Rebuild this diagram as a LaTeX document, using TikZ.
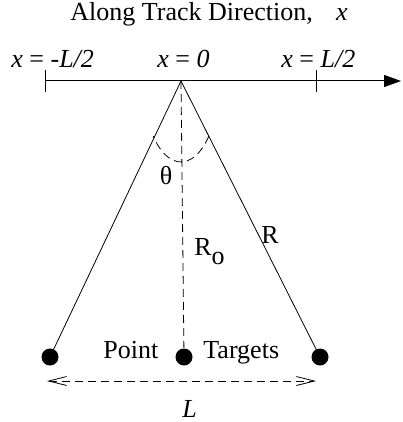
\documentclass[tikz,border=0pt]{standalone}
\usepackage{fontspec}
\setmainfont{Liberation Serif}
\usetikzlibrary{arrows.meta}
\begin{document}
\begin{tikzpicture}[x=1pt,y=-1pt,line width=0.8pt,
  every node/.style={font=\fontsize{26}{30}\selectfont,inner sep=0pt},
  target/.style={circle,fill,minimum size=17pt},
  guide/.style={dash pattern=on 8pt off 5pt}]
\useasboundingbox (0,0) rectangle (402,422);
\node[anchor=base west] (title) at (70,21) {Along Track Direction,\hspace{0.9em}\textit{x}};
\node[anchor=base west] (xl) at (11,68) {\textit{x} = \textit{-L/2}};
\node[anchor=base west] (xc) at (157,68) {\textit{x} = \textit{0}};
\node[anchor=base west] (xr) at (281,68) {\textit{x} = \textit{L/2}};
\coordinate (apex) at (181,81);
\coordinate (axstart) at (45,81);
\coordinate (axtip) at (401,81);
\node[target] (tl) at (50,357) {};
\node[target] (tc) at (184,357) {};
\node[target] (tr) at (320,357) {};
\coordinate (lleft) at (47,381);
\coordinate (lright) at (316,381);
% along track axis
\draw[line width=1pt,-{Triangle[length=17pt,width=12pt]}] (axstart) -- (axtip);
\foreach \t in {45,316} \draw (\t,70) -- (\t,92);
% slant ranges
\draw (apex) -- (tl.center);
\draw (apex) -- (tr.center);
\draw[guide] (apex) -- (tc);
\draw[guide] (apex) ++(43:38 and 81) arc[start angle=43,end angle=137,x radius=38,y radius=81];
\draw[guide,{Straight Barb[length=18pt,width=9pt]}-{Straight Barb[length=18pt,width=9pt]}] (lleft) -- (lright);
% labels
\node (theta) at (166,176) {θ};
\node[anchor=base west] (ro) at (194,255) {R\raisebox{-9pt}{o}};
\node[anchor=base west] (r) at (261,243) {R};
\node[anchor=base west] (pt) at (103,358) {Point};
\node[anchor=base west] (tg) at (203,358) {Targets};
\node[anchor=base west] (len) at (182,417) {\textit{L}};
\end{tikzpicture}
\end{document}
